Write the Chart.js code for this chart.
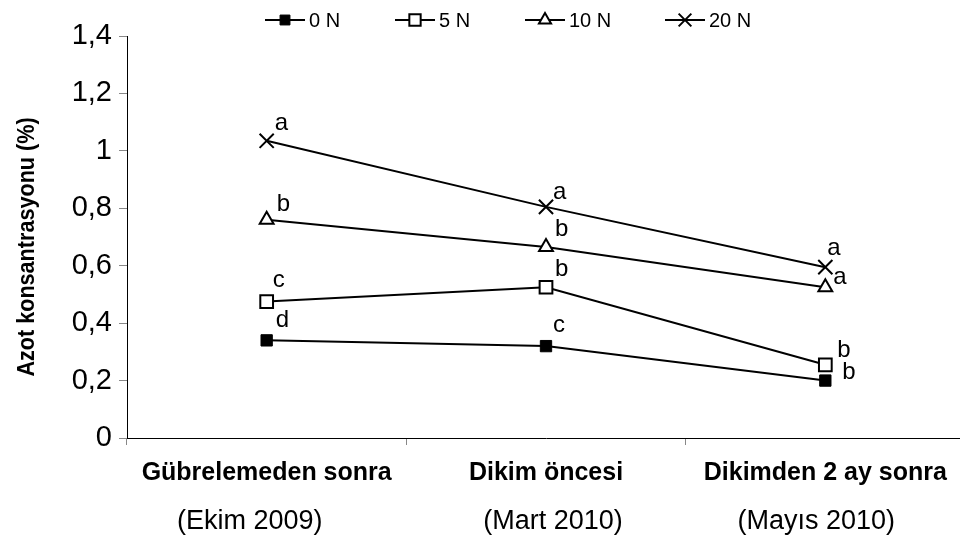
<!DOCTYPE html>
<html>
<head>
<meta charset="utf-8">
<script src="https://cdn.jsdelivr.net/npm/chart.js@4.4.0/dist/chart.umd.min.js"></script>
<style>
  html, body { margin: 0; padding: 0; background: #fff; overflow: hidden; width: 960px; height: 541px; }
  #wrap { width: 977px; height: 541px; }
</style>
</head>
<body>
<div id="wrap"><canvas id="c" width="977" height="541"></canvas></div>
<script>
// Sampling periods (bold line) and their dates (second line)
const categories = ['Gübrelemeden sonra', 'Dikim öncesi', 'Dikimden 2 ay sonra'];
const periods = ['(Ekim 2009)', '(Mart 2010)', '(Mayıs 2010)'];

// Nitrogen concentration (%) per fertiliser dose
const seriesNames = ['0 N', '5 N', '10 N', '20 N'];
const n0 = [0.34, 0.32, 0.20];
const n5 = [0.475, 0.525, 0.255];
const n10 = [0.76, 0.665, 0.525];
const n20 = [1.035, 0.805, 0.595];

// Significance letters for each point
const letters0 = ['d', 'c', 'b'];
const letters5 = ['c', 'b', 'b'];
const letters10 = ['b', 'b', 'a'];
const letters20 = ['a', 'a', 'a'];

const yMin = 0, yMax = 1.4, yStep = 0.2;
const yTitle = 'Azot konsantrasyonu (%)';

const FONT = '"Liberation Sans", Arial, sans-serif';

const seriesValues = [n0, n5, n10, n20];
const seriesLetters = [letters0, letters5, letters10, letters20];
const markers = [
  { style: 'rect', radius: 8, fill: '#000', bw: 1 },
  { style: 'rect', radius: 9, fill: '#fff', bw: 2 },
  { style: 'triangle', radius: 8, fill: '#fff', bw: 2 },
  { style: 'crossRot', radius: 10, fill: '#fff', bw: 2 }
];

// letter placement relative to each point (left edge, baseline)
const letterOffsets = [
  [[9, -13], [7, -14], [17, -2]],
  [[6, -15], [9, -11], [12, -8]],
  [[10, -9], [9, -11], [8, -3]],
  [[8, -11], [7, -8], [2, -12]]
];

// horizontal nudge of the date line under each category
const periodShift = [-17, 7, -9];

function drawMarker(ctx, kind, x, y, r) {
  ctx.save();
  ctx.lineWidth = kind.bw;
  ctx.strokeStyle = '#000';
  ctx.fillStyle = kind.fill;
  ctx.beginPath();
  if (kind.style === 'rect') {
    const s = r * Math.SQRT1_2;
    ctx.rect(x - s, y - s, 2 * s, 2 * s);
    ctx.fill(); ctx.stroke();
  } else if (kind.style === 'triangle') {
    const w = r * Math.sin(Math.PI / 3);
    ctx.moveTo(x, y - r);
    ctx.lineTo(x + w, y + r / 2);
    ctx.lineTo(x - w, y + r / 2);
    ctx.closePath();
    ctx.fill(); ctx.stroke();
  } else {
    const s = r * Math.SQRT1_2;
    ctx.moveTo(x - s, y - s); ctx.lineTo(x + s, y + s);
    ctx.moveTo(x + s, y - s); ctx.lineTo(x - s, y + s);
    ctx.stroke();
  }
  ctx.restore();
}

const extras = {
  id: 'extras',
  afterDatasetsDraw(chart) {
    const ctx = chart.ctx;
    ctx.save();
    ctx.fillStyle = '#000';
    ctx.font = '24px ' + FONT;
    ctx.textAlign = 'left';
    ctx.textBaseline = 'alphabetic';
    seriesLetters.forEach((lets, i) => {
      const meta = chart.getDatasetMeta(i);
      lets.forEach((t, j) => {
        const p = meta.data[j];
        ctx.fillText(t, p.x + letterOffsets[i][j][0], p.y + letterOffsets[i][j][1]);
      });
    });
    ctx.restore();
  },
  afterDraw(chart) {
    const ctx = chart.ctx;
    const xs = chart.scales.x;
    ctx.save();
    ctx.fillStyle = '#000';
    ctx.textAlign = 'center';
    ctx.textBaseline = 'middle';
    categories.forEach((c, i) => {
      const x = xs.getPixelForValue(i);
      ctx.font = 'bold 25px ' + FONT;
      ctx.fillText(c, x, 473);
      ctx.font = '27px ' + FONT;
      ctx.fillText(periods[i], x + periodShift[i], 522);
    });
    // y-axis title, slightly condensed along its length
    ctx.save();
    ctx.translate(27, 247);
    ctx.rotate(-Math.PI / 2);
    ctx.scale(0.9, 1);
    ctx.font = 'bold 24px ' + FONT;
    ctx.fillText(yTitle, 0, 0);
    ctx.restore();
    // legend
    const starts = [265, 395, 525, 665];
    const ly = 20;
    ctx.font = '20px ' + FONT;
    ctx.textAlign = 'left';
    seriesNames.forEach((name, i) => {
      const x0 = starts[i];
      ctx.beginPath();
      ctx.lineWidth = 2;
      ctx.strokeStyle = '#000';
      ctx.moveTo(x0, ly); ctx.lineTo(x0 + 40, ly);
      ctx.stroke();
      drawMarker(ctx, markers[i], x0 + 20, ly, markers[i].radius - 1);
      ctx.fillText(name, x0 + 44, ly + 1);
    });
    ctx.restore();
  }
};

new Chart(document.getElementById('c'), {
  type: 'line',
  data: {
    labels: categories,
    datasets: seriesNames.map((name, i) => ({
      label: name,
      data: seriesValues[i],
      borderColor: '#000',
      borderWidth: 2,
      tension: 0,
      fill: false,
      pointStyle: markers[i].style,
      pointRadius: markers[i].radius,
      pointBackgroundColor: markers[i].fill,
      pointBorderColor: '#000',
      pointBorderWidth: markers[i].bw
    }))
  },
  options: {
    responsive: false,
    animation: false,
    events: [],
    layout: { padding: { top: 36, right: 5, left: 0, bottom: 0 } },
    plugins: { legend: { display: false }, tooltip: { enabled: false } },
    scales: {
      x: {
        type: 'category',
        offset: true,
        grid: { offset: true, drawOnChartArea: false, tickLength: 7, color: '#888' },
        border: { color: '#000', width: 1 },
        ticks: { display: false },
        afterFit(s) { s.height = 103; }
      },
      y: {
        min: yMin, max: yMax,
        grid: { drawOnChartArea: false, tickLength: 8, color: '#888' },
        border: { color: '#000', width: 1 },
        ticks: {
          stepSize: yStep,
          padding: 7,
          color: '#000',
          font: { family: FONT, size: 29 },
          callback: v => String(Math.round(v * 10) / 10).replace('.', ',')
        },
        afterFit(s) { s.width = 127; }
      }
    }
  },
  plugins: [extras]
});
</script>
</body>
</html>
